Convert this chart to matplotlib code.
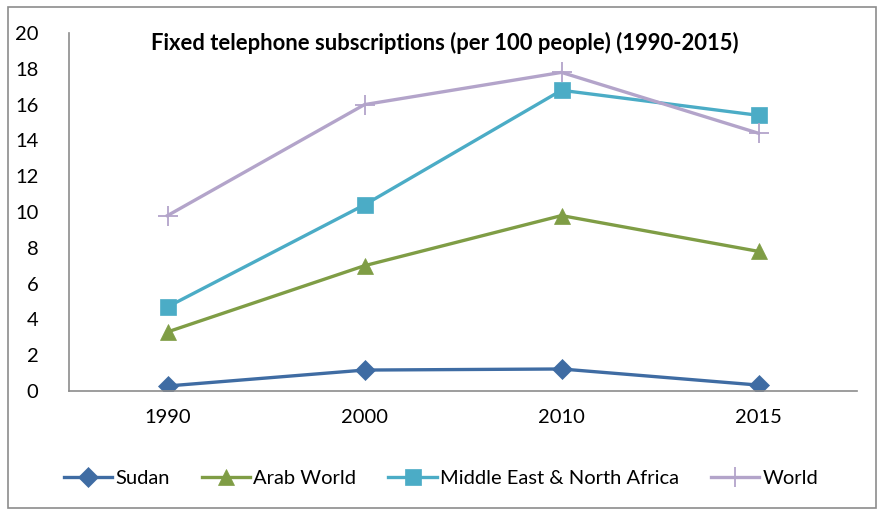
import matplotlib.pyplot as plt
from matplotlib.patches import Rectangle

plt.rcParams['font.family'] = ['Lato', 'DejaVu Sans']

years = ['1990', '2000', '2010', '2015']
sudan = [0.28, 1.17, 1.23, 0.33]
arab_world = [3.3, 7.0, 9.8, 7.8]
mena = [4.7, 10.4, 16.8, 15.4]
world = [9.8, 16.0, 17.8, 14.4]

series = [
    ('Sudan', sudan, '#3F6CA3', 'D', 10),
    ('Arab World', arab_world, '#7F9D45', '^', 11),
    ('Middle East & North Africa', mena, '#4BACC6', 's', 11),
    ('World', world, '#B3A4CA', '+', 14),
]

fig = plt.figure(figsize=(8.82, 5.12), dpi=100)
# chart frame like excel
fig.patches.append(Rectangle((8 / 882, 1 - 508 / 512), 868 / 882, 501 / 512,
                             transform=fig.transFigure, fill=False,
                             edgecolor='#8C8C8C', linewidth=1.2))

ax = fig.add_axes([69 / 882, 1 - 391 / 512, 788 / 882, 358 / 512])
x = range(len(years))
for name, vals, color, marker, ms in series:
    ax.plot(x, vals, color=color, linewidth=2.4, marker=marker,
            markersize=ms, markeredgewidth=1.3 if marker == '+' else 0.5,
            markerfacecolor=color, markeredgecolor=color, label=name)

ax.set_xlim(-0.5, 3.5)
ax.set_ylim(0, 20)
ax.set_yticks(range(0, 21, 2))
ax.set_xticks(list(x))
ax.set_xticklabels(years)
ax.tick_params(length=0, labelsize=14.5)
ax.tick_params(axis='y', pad=22)
ax.tick_params(axis='x', pad=13)
for s in ['top', 'right']:
    ax.spines[s].set_visible(False)
for s in ['left', 'bottom']:
    ax.spines[s].set_color('#8C8C8C')
    ax.spines[s].set_linewidth(1.2)

ax.set_title('Fixed telephone subscriptions (per 100 people) (1990-2015)',
             fontsize=15.8, fontweight='bold', x=0.477, y=0.93)

fig.legend(loc='center', bbox_to_anchor=(0.5, 1 - 478 / 512), ncol=4,
           frameon=False, fontsize=14.5, handlelength=2.4, columnspacing=1.6,
           handletextpad=0.15)

fig.savefig('out.png', dpi=100)
